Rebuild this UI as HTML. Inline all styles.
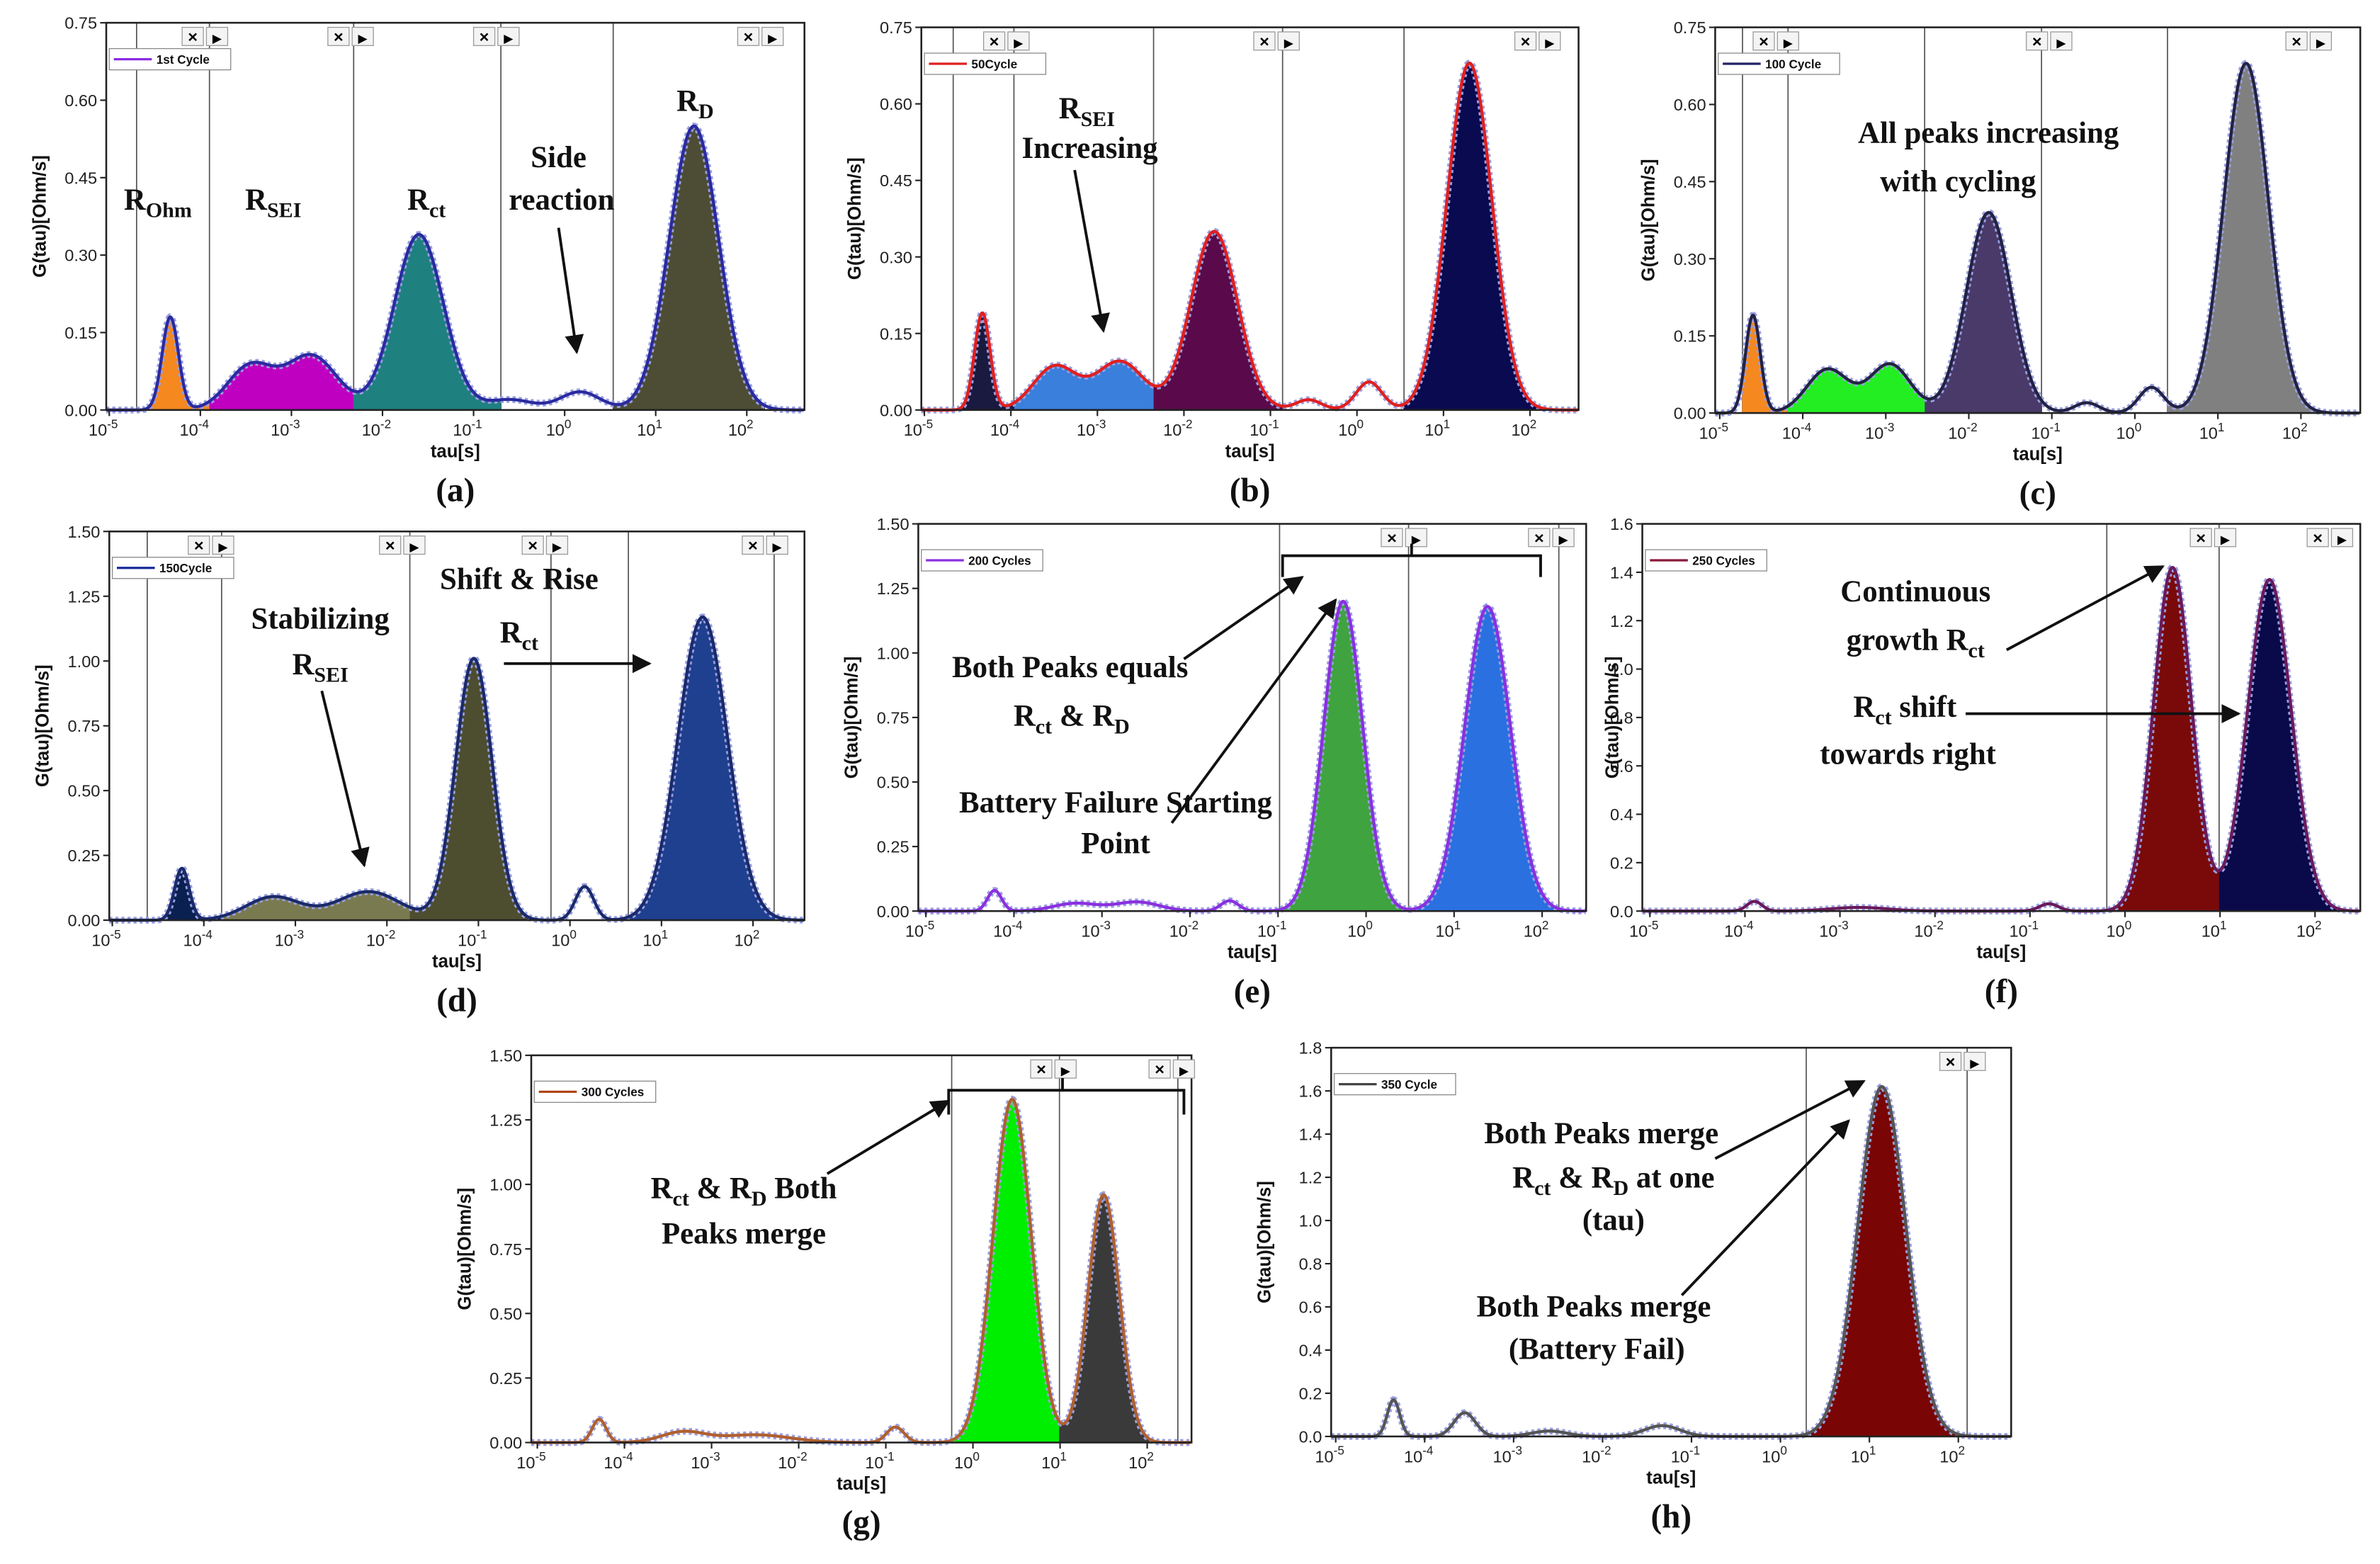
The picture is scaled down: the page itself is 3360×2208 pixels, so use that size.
<!DOCTYPE html>
<html><head><meta charset="utf-8">
<style>
html,body{margin:0;padding:0;background:#fff;}
svg{display:block;}
.tick{font-family:"Liberation Sans",sans-serif;font-size:11px;fill:#222;}
.ylab{font-family:"Liberation Sans",sans-serif;font-size:12px;font-weight:bold;fill:#111;}
.ann{font-family:"Liberation Serif",serif;font-size:20px;font-weight:bold;fill:#111;}
.letter{font-family:"Liberation Serif",serif;font-size:22px;font-weight:bold;fill:#111;}
.leg{font-family:"Liberation Sans",sans-serif;font-size:8px;font-weight:bold;fill:#111;}
</style></head>
<body>
<svg id="fig" width="3360" height="2208" viewBox="0 0 1568 1030" preserveAspectRatio="none" xmlns="http://www.w3.org/2000/svg">
<defs><marker id="ah" viewBox="0 0 10 10" refX="9" refY="5" markerWidth="7" markerHeight="7" orient="auto"><path d="M0,0 L10,5 L0,10 z" fill="#111"/></marker></defs>
</svg>
<script>
// ---- data (peak centers log10 tau, heights, widths) ----
const centersA=[-4.33,-3.45,-2.78,-1.6,-0.6,0.17,1.42];
const heightsA=[0.18,0.085,0.105,0.34,0.02,0.035,0.55];
const widthsA=[0.09,0.25,0.28,0.27,0.25,0.22,0.27];
const centersB=[-4.33,-3.49,-2.74,-1.65,-0.56,0.14,1.3];
const heightsB=[0.19,0.085,0.095,0.35,0.02,0.055,0.68];
const widthsB=[0.09,0.25,0.28,0.27,0.15,0.15,0.26];
const centersC=[-4.6,-3.7,-2.95,-1.76,-0.58,0.2,1.34];
const heightsC=[0.19,0.085,0.095,0.39,0.02,0.05,0.68];
const widthsC=[0.09,0.25,0.25,0.27,0.15,0.15,0.27];
const centersD=[-4.24,-3.24,-2.2,-1.05,0.16,1.45];
const heightsD=[0.2,0.09,0.11,1.01,0.13,1.17];
const widthsD=[0.08,0.3,0.35,0.2,0.1,0.27];
const centersE=[-4.22,-3.3,-2.6,-1.55,-0.26,1.38];
const heightsE=[0.08,0.03,0.035,0.04,1.2,1.18];
const widthsE=[0.08,0.25,0.25,0.1,0.22,0.26];
const centersF=[-3.9,-2.8,-0.8,0.5,1.52];
const heightsF=[0.04,0.015,0.03,1.42,1.37];
const widthsF=[0.08,0.3,0.1,0.2,0.23];
const centersG=[-4.29,-3.33,-2.5,-0.89,0.45,1.5];
const heightsG=[0.09,0.04,0.03,0.06,1.33,0.96];
const widthsG=[0.08,0.25,0.4,0.1,0.22,0.18];
const centersH=[-4.35,-3.55,-2.6,-1.33,1.14];
const heightsH=[0.17,0.11,0.025,0.05,1.62];
const widthsH=[0.07,0.12,0.2,0.2,0.27];
const xTickExps=[-5,-4,-3,-2,-1,0,1,2];

const NS="http://www.w3.org/2000/svg";
const svg=document.getElementById('fig');
function mk(tag,attrs,parent){const e=document.createElementNS(NS,tag);for(const k in attrs)e.setAttribute(k,attrs[k]);(parent||svg).appendChild(e);return e;}

const panels=[
 {id:'a',xl:70,xr:530,yt:15,yb:270,x0:72,dec:60,ymax:0.75,step:0.15,dp:2,c:centersA,h:heightsA,w:widthsA,line:'#2a2aa0',yo:40,
  vl:[90,138,233,330,404],fills:[[-4.7,-3.9,'#f5881f'],[-3.9,-2.32,'#c000c0'],[-2.32,-0.7,'#1f8080'],[0.53,2.2,'#4d4d35']],
  leg:'1st Cycle',legc:'#8a2be2',boxes:[128,224,320,494]},
 {id:'b',xl:607,xr:1040,yt:18,yb:270,x0:609,dec:57,ymax:0.75,step:0.15,dp:2,c:centersB,h:heightsB,w:widthsB,line:'#e02020',yo:40,
  vl:[628,668,760,845,925],fills:[[-4.67,-3.96,'#1a1a40'],[-3.96,-2.35,'#3a7fdc'],[-2.35,-0.86,'#5a0a4a'],[0.54,2.3,'#0a0a50']],
  leg:'50Cycle',legc:'#e02020',boxes:[656,834,1006]},
 {id:'c',xl:1130,xr:1555,yt:18,yb:272,x0:1133,dec:54.7,ymax:0.75,step:0.15,dp:2,c:centersC,h:heightsC,w:widthsC,line:'#222244',yo:40,
  vl:[1148,1178,1268,1345,1428],fills:[[-4.73,-4.18,'#f5881f'],[-4.18,-2.53,'#22ee22'],[-2.53,-1.12,'#4a3a6a'],[0.39,2.3,'#808080']],
  leg:'100 Cycle',legc:'#222266',boxes:[1163,1343,1514]},
 {id:'d',xl:72,xr:530,yt:350,yb:606,x0:74,dec:60.3,ymax:1.5,step:0.25,dp:2,c:centersD,h:heightsD,w:widthsD,line:'#1a2a6a',yo:40,
  vl:[97,146,270,363,414,510],fills:[[-4.62,-3.8,'#0a2050'],[-3.8,-1.75,'#7a7a50'],[-1.75,-0.2,'#4d4d30'],[0.64,2.3,'#1f3f8f']],
  leg:'150Cycle',legc:'#1a2a9a',boxes:[132,258,352,497]},
 {id:'e',xl:605,xr:1045,yt:345,yb:600,x0:610,dec:58,ymax:1.5,step:0.25,dp:2,c:centersE,h:heightsE,w:widthsE,line:'#8a30e0',yo:40,
  vl:[843,928,1027],fills:[[-0.98,0.48,'#3fa33f'],[0.48,2.3,'#2a70e0']],
  leg:'200 Cycles',legc:'#8a30e0',boxes:[918,1015]},
 {id:'f',xl:1082,xr:1555,yt:345,yb:600,x0:1087,dec:62.6,ymax:1.6,step:0.2,dp:1,c:centersF,h:heightsF,w:widthsF,line:'#6a1a5a',yo:16,
  vl:[1388,1462],fills:[[-0.2,0.99,'#7a0a0a'],[0.99,2.3,'#0a0a4a']],
  leg:'250 Cycles',legc:'#8a1a3a',boxes:[1451,1528]},
 {id:'g',xl:350,xr:785,yt:695,yb:950,x0:354,dec:57.4,ymax:1.5,step:0.25,dp:2,c:centersG,h:heightsG,w:widthsG,line:'#b06030',yo:40,
  vl:[627,698,776],fills:[[-0.5,0.99,'#00ee00'],[0.99,2.3,'#3a3a3a']],
  leg:'300 Cycles',legc:'#b04010',boxes:[687,765]},
 {id:'h',xl:877,xr:1325,yt:690,yb:946,x0:880,dec:58.6,ymax:1.8,step:0.2,dp:1,c:centersH,h:heightsH,w:widthsH,line:'#555555',yo:40,
  vl:[1190,1296],fills:[[0.3,2.3,'#7a0505']],
  leg:'350 Cycle',legc:'#444',boxes:[1286]}
];

function G(p,lt){let s=0;for(let i=0;i<p.c.length;i++){const z=(lt-p.c[i])/p.w[i];s+=p.h[i]*Math.exp(-z*z/2);}return s;}

panels.forEach(p=>{
 const g=mk('g',{});
 
 
 const px=lt=>p.x0+(lt+5)*p.dec;
 const py=v=>p.yb-v/p.ymax*(p.yb-p.yt);
 const ltMax=(p.xr-p.x0)/p.dec-5, ltMin=(p.xl-p.x0)/p.dec-5;
 p.vl.forEach(x=>{const l=mk('line',{x1:x,x2:x,y1:p.yt,y2:p.yb,stroke:'#555','stroke-width':0.8},g);
  });
 p.fills.forEach(f=>{
  let d='M'+px(f[0])+','+py(0);
  for(let lt=f[0];lt<=f[1]+1e-9;lt+=0.01)d+=' L'+px(lt).toFixed(2)+','+py(G(p,lt)).toFixed(2);
  d+=' L'+px(f[1])+','+py(0)+' Z';
  const e=mk('path',{d:d,fill:f[2]},g);
  
 });
 let d='';
 for(let lt=ltMin;lt<=ltMax;lt+=0.01){d+=(d?' L':'M')+px(lt).toFixed(2)+','+py(G(p,lt)).toFixed(2);}
 const o=mk('path',{d:d,fill:'none',stroke:'#9aa0e0','stroke-width':4.5,'stroke-dasharray':'2 2'},g);
 
 const c=mk('path',{d:d,fill:'none',stroke:p.line,'stroke-width':2},g);
 
 const fr=mk('rect',{x:p.xl,y:p.yt,width:p.xr-p.xl,height:p.yb-p.yt,fill:'none',stroke:'#222','stroke-width':1.2},g);
 
 for(let v=0;v<=p.ymax+1e-9;v+=p.step){
  const y=py(v);
  mk('line',{x1:p.xl-4,x2:p.xl,y1:y,y2:y,stroke:'#222'},g);
  const t=mk('text',{x:p.xl-6,y:y+4,'text-anchor':'end',class:'tick'},g);
  t.textContent=v.toFixed(p.dp);
  
 }
 xTickExps.forEach(e=>{
  const x=px(e);
  mk('line',{x1:x,x2:x,y1:p.yb,y2:p.yb+4,stroke:'#222'},g);
  const t=mk('text',{x:x-4,y:p.yb+17,'text-anchor':'middle',class:'tick'},g);
  
  t.appendChild(document.createTextNode('10'));
  const s=mk('tspan',{dy:-5,'font-size':'8'},t);s.textContent=String(e);
 });
 const cx=(p.xl+p.xr)/2;
 const xt=mk('text',{x:cx,y:p.yb+31,'text-anchor':'middle',class:'ylab','font-size':13},g);
 xt.textContent='tau[s]';
 const ym=(p.yt+p.yb)/2, yx=p.xl-p.yo;
 const yt=mk('text',{x:yx,y:ym,'text-anchor':'middle',class:'ylab',transform:'rotate(-90 '+yx+' '+ym+')'},g);
 yt.textContent='G(tau)[Ohm/s]';
 const lt=mk('text',{x:cx,y:p.yb+60,'text-anchor':'middle',class:'letter'},g);
 lt.textContent='('+p.id+')';
 const lg=mk('g',{},g);
 mk('rect',{x:p.xl+2,y:p.yt+17,width:80,height:14,fill:'#fff',stroke:'#888','stroke-width':0.6},lg);
 mk('line',{x1:p.xl+5,x2:p.xl+30,y1:p.yt+24,y2:p.yt+24,stroke:p.legc,'stroke-width':1.5},lg);
 const lx=mk('text',{x:p.xl+33,y:p.yt+27,class:'leg'},lg);lx.textContent=p.leg;
 p.boxes.forEach(bx=>{
  const b=mk('g',{},g);
  mk('rect',{x:bx-8,y:p.yt+3,width:14,height:12,fill:'#f4f4f4',stroke:'#999','stroke-width':0.6},b);
  mk('rect',{x:bx+8,y:p.yt+3,width:14,height:12,fill:'#f4f4f4',stroke:'#999','stroke-width':0.6},b);
  const t1=mk('text',{x:bx-1,y:p.yt+13,'text-anchor':'middle','font-size':11,'font-weight':'bold','font-family':'Liberation Sans, sans-serif'},b);t1.textContent='×';
  const t2=mk('text',{x:bx+15,y:p.yt+13,'text-anchor':'middle','font-size':8,'font-family':'DejaVu Sans, sans-serif'},b);t2.textContent='▶';
 });
});

// annotations: parts alternate normal / subscript
function ann(x,y,...parts){
 const t=mk('text',{x:x,y:y,'text-anchor':'middle',class:'ann'});
 
 let sub=false;
 parts.forEach((s,i)=>{
  if(i===0){t.appendChild(document.createTextNode(s));}
  else if(i%2===1){const e=mk('tspan',{dy:5,'font-size':'14'},t);e.textContent=s;}
  else{const e=mk('tspan',{dy:-5,'font-size':'20'},t);e.textContent=s;}
  sub=!sub;
 });
 return t;
}
function arrow(x1,y1,x2,y2){const l=mk('line',{x1:x1,y1:y1,x2:x2,y2:y2,stroke:'#111','stroke-width':1.8,'marker-end':'url(#ah)'});
 }
function brace(x1,x2,xm,y1,y2){const b=mk('path',{d:`M${x1},${y2} L${x1},${y1} L${x2},${y1} L${x2},${y2} M${xm},${y1} L${xm},${y1-8}`,fill:'none',stroke:'#111','stroke-width':1.8});
 }

ann(104,138,'R','Ohm');ann(180,138,'R','SEI');ann(281,138,'R','ct');
ann(368,110,'Side');ann(370,138,'reaction');ann(458,73,'R','D');
arrow(368,150,380,232);
ann(716,78,'R','SEI');ann(718,104,'Increasing');arrow(708,112,727,218);
ann(1310,94,'All peaks increasing');ann(1290,126,'with cycling');
ann(211,414,'Stabilizing');ann(211,444,'R','SEI');arrow(212,455,240,570);
ann(342,388,'Shift & Rise');ann(342,423,'R','ct');arrow(332,437,428,437);
ann(705,446,'Both Peaks equals');ann(706,478,'R','ct',' & R','D');
brace(845,1015,930,366,380);
ann(735,535,'Battery Failure Starting');ann(735,562,'Point');
arrow(780,434,858,380);arrow(772,542,880,395);
ann(1262,396,'Continuous');ann(1262,428,'growth R','ct');arrow(1322,428,1425,373);
ann(1255,472,'R','ct',' shift');ann(1257,503,'towards right');arrow(1295,470,1475,470);
brace(625,780,700,718,734);
ann(490,789,'R','ct',' & R','D',' Both');ann(490,819,'Peaks merge');arrow(545,773,625,725);
ann(1055,753,'Both Peaks merge');ann(1063,782,'R','ct',' & R','D',' at one');ann(1063,810,'(tau)');
ann(1050,867,'Both Peaks merge');ann(1052,895,'(Battery Fail)');
arrow(1130,763,1228,712);arrow(1108,853,1218,738);
</script>
</body></html>
